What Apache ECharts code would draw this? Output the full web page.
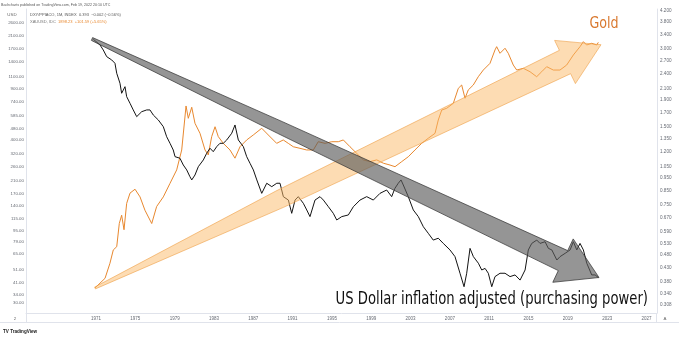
<!DOCTYPE html>
<html><head><meta charset="utf-8">
<script src="https://cdn.jsdelivr.net/npm/echarts@6/dist/echarts.min.js"></script>
<style>html,body{margin:0;padding:0;background:#fff}#c{width:679px;height:337px}</style>
</head><body><div id="c"></div>
<script>
// ---- data ----
const goldYears = [1970.9,1971.92,1972.42,1972.76,1973.11,1973.37,1973.61,1973.85,1974.12,1974.46,1974.97,1975.48,1975.98,1976.67,1977.17,1977.85,1978.53,1979.21,1979.72,1980.16,1980.39,1980.74,1981.07,1981.58,1982.09,1982.42,1982.77,1983.11,1983.44,1983.95,1984.63,1985.14,1985.65,1986.33,1987.0,1987.86,1988.53,1989.38,1990.05,1990.56,1991.07,1991.75,1992.43,1993.11,1993.61,1994.3,1994.98,1995.65,1996.16,1996.84,1997.52,1998.19,1998.87,1999.56,2000.23,2000.91,2001.42,2002.1,2002.77,2003.45,2004.13,2004.8,2005.49,2005.82,2006.17,2006.68,2007.35,2007.86,2008.2,2008.54,2008.87,2009.38,2009.89,2010.4,2011.08,2011.59,2011.76,2012.1,2012.61,2012.94,2013.45,2013.8,2014.47,2015.15,2015.83,2016.34,2016.85,2017.52,2018.2,2018.88,2019.56,2020.24,2020.58,2020.91,2021.43,2021.94,2022.1];
const goldValues = [38,44.3,56.3,69.6,73.3,106,121,96,146,172,183,162,131,106,139,162,201,249,342,689,566,675,523,446,342,316,423,495,423,380,342,300,360,401,434,483,434,380,401,380,360,351,342,342,390,380,390,390,401,360,324,292,284,292,277,269,262,284,307,342,380,412,446,551,646,664,719,913,962,779,889,962,1098,1221,1358,1681,1771,1594,1727,1594,1322,1221,1255,1189,1098,1189,1288,1221,1221,1322,1552,1771,1918,1819,1869,1819,1898];

const dollarYears = [1970.73,1971.41,1971.74,1972.09,1972.6,1972.93,1973.11,1973.44,1973.61,1973.95,1974.12,1974.46,1974.79,1975.14,1975.3,1975.65,1976.16,1976.49,1976.83,1977.34,1977.85,1978.19,1978.53,1978.86,1979.04,1979.54,1979.88,1980.23,1980.56,1980.74,1981.07,1981.41,1981.92,1982.26,1982.6,1982.93,1983.28,1983.61,1983.95,1984.3,1984.81,1985.14,1985.48,1985.99,1986.33,1986.67,1987.01,1987.36,1987.86,1988.37,1988.88,1989.39,1989.72,1990.06,1990.57,1990.91,1991.25,1991.58,1992.09,1992.44,1992.77,1993.28,1993.79,1994.13,1994.64,1995.14,1995.49,1996.0,1996.67,1997.18,1997.86,1998.54,1999.21,1999.89,2000.57,2001.08,2001.41,2001.75,2002.03,2002.26,2002.77,2003.28,2003.79,2004.3,2004.8,2005.31,2005.82,2006.33,2007.01,2007.52,2008.03,2008.44,2008.71,2009.05,2009.39,2009.9,2010.24,2010.58,2010.91,2011.26,2011.59,2012.1,2012.61,2013.12,2013.63,2014.14,2014.65,2014.98,2015.33,2015.84,2016.17,2016.68,2017.02,2017.37,2017.88,2018.21,2018.72,2019.23,2019.56,2019.91,2020.24,2020.58,2020.93,2021.43,2021.77,2022.1];
const dollarValues = [3.265,3.103,2.968,2.797,2.716,2.637,2.413,2.208,2.02,2.142,1.96,1.848,1.742,1.641,1.632,1.715,1.742,1.742,1.665,1.593,1.501,1.373,1.295,1.22,1.15,1.134,1.068,1.022,0.962,0.935,0.977,1.052,1.117,1.185,1.239,1.202,1.257,1.295,1.295,1.334,1.416,1.524,1.334,1.257,1.15,1.084,1.022,0.935,0.83,0.908,0.881,0.908,0.908,0.806,0.782,0.695,0.782,0.806,0.76,0.716,0.675,0.782,0.806,0.782,0.737,0.695,0.655,0.675,0.685,0.737,0.782,0.806,0.782,0.83,0.855,0.806,0.868,0.908,0.935,0.894,0.806,0.716,0.675,0.617,0.582,0.548,0.557,0.532,0.502,0.473,0.408,0.362,0.408,0.509,0.473,0.446,0.42,0.426,0.408,0.362,0.396,0.408,0.408,0.396,0.402,0.384,0.42,0.502,0.532,0.548,0.532,0.54,0.509,0.502,0.459,0.473,0.487,0.502,0.54,0.502,0.532,0.502,0.446,0.402,0.402,0.393];

const yearTicks = [1971,1975,1979,1983,1987,1991,1995,1999,2003,2007,2011,2015,2019,2023,2027];
const goldTicks = [30,34,41,51,65,79,95,115,140,170,210,260,320,400,480,585,740,900,1100,1400,1700,2100,2600];
const dollarTicks = [0.308,0.34,0.38,0.43,0.48,0.53,0.59,0.67,0.75,0.85,0.95,1.05,1.2,1.35,1.5,1.7,1.9,2.1,2.4,2.7,3.0,3.4,3.8,4.2];

// ---- build ----
const L = Math.log10;
const goldData = goldYears.map((y,i)=>[y, L(goldValues[i])]);
const dollarData = dollarYears.map((y,i)=>[y, L(dollarValues[i])]);

const FONT = '"Liberation Sans", Arial, sans-serif';
const BIGFONT = '"Liberation Sans Narrow", "DejaVu Sans Condensed", sans-serif';
const labelColor = '#666a73';
const borderColor = '#e0e3eb';

const grayArrow = [[92.6,37.6],[282.9,121.9],[567.7,250.6],[573.2,238.9],[599,277.5],[552.8,282.3],[558.3,270.6],[277.5,133.3],[91.4,40.4]];
const goldArrow = [[95.4,288.9],[283.6,207.3],[570.6,73.7],[575.4,83.6],[601,44.7],[554.6,40.4],[559.4,50.3],[275.8,191.1],[94.6,287.1]];

function txt(x,y,text,font,color,align,sx){
  return {type:'text',z:120,x:x,y:y,scaleX:sx||1,
    style:{x:0,y:0,text:text,fill:color,font:font,
      align:align||'left',verticalAlign:'middle',
      textAlign:align||'left',textVerticalAlign:'middle'}};
}

const chart = echarts.init(document.getElementById('c'), null, {renderer:'canvas'});
chart.setOption({
  backgroundColor:'#ffffff',
  animation:false,
  grid:{left:26,right:22,top:9,bottom:24,containLabel:false},
  xAxis:{type:'value',min:1963.88,max:2028.07,
    axisLine:{show:true,onZero:false,lineStyle:{color:borderColor,width:1}},
    axisTick:{show:false},splitLine:{show:false},
    axisLabel:{customValues:yearTicks,fontSize:4.5,color:labelColor,margin:3,fontFamily:FONT,
      formatter:v=>String(Math.round(v))}},
  yAxis:[
    {type:'value',position:'left',min:L(25.5),max:L(3227),
      axisLine:{show:true,onZero:false,lineStyle:{color:borderColor,width:1}},
      axisTick:{show:false},splitLine:{show:false},
      axisLabel:{customValues:goldTicks.map(L),fontSize:4.4,color:labelColor,margin:2,fontFamily:FONT,
        formatter:v=>Math.pow(10,v).toFixed(2)}},
    {type:'value',position:'right',min:L(0.2866),max:L(4.272),
      axisLine:{show:true,onZero:false,lineStyle:{color:borderColor,width:1}},
      axisTick:{show:false},splitLine:{show:false},
      axisLabel:{customValues:dollarTicks.map(L),fontSize:4.6,color:labelColor,margin:3,fontFamily:FONT,
        formatter:v=>Math.pow(10,v).toFixed(3)}}
  ],
  series:[
    {name:'XAUUSD',type:'line',yAxisIndex:0,data:goldData,showSymbol:false,
      lineStyle:{color:'#e8882f',width:1},z:3},
    {name:'DXY/PPIACO',type:'line',yAxisIndex:1,data:dollarData,showSymbol:false,
      lineStyle:{color:'#131313',width:1},z:4}
  ],
  graphic:[
    {type:'polygon',z:100,shape:{points:goldArrow},
      style:{fill:'rgba(252,186,104,0.5)',stroke:'rgba(238,160,70,0.75)',lineWidth:0.8}},
    {type:'polygon',z:101,shape:{points:grayArrow},
      style:{fill:'rgba(92,92,92,0.65)',stroke:'rgba(50,50,50,0.9)',lineWidth:0.8}},
    {type:'line',z:90,shape:{x1:0,y1:322.5,x2:679,y2:322.5},style:{stroke:borderColor,lineWidth:1}},
    {type:'line',z:90,shape:{x1:26.5,y1:313,x2:26.5,y2:322.5},style:{stroke:borderColor,lineWidth:1}},
    {type:'line',z:90,shape:{x1:656.5,y1:313,x2:656.5,y2:322.5},style:{stroke:borderColor,lineWidth:1}},
    txt(1,5,'Bachcharts published on TradingView.com, Feb 19, 2022 20:10 UTC','3.6px '+FONT,'#555'),
    txt(30,15,'DXY/PPIACO, 1M, INDEX  0.393  \u22120.002 (\u22120.56%)','4px '+FONT,'#555'),
    txt(30,22,'XAUUSD, IDC','4px '+FONT,'#777'),
    txt(58,22,'1898.23  +101.59 (+5.65%)','4px '+FONT,'#e8882f'),
    txt(12,15,'USD','4.4px '+FONT,'#666','center'),
    txt(15,319,'2','4.4px '+FONT,'#666','center'),
    txt(665,319,'A','4.4px '+FONT,'#666','center'),
    txt(3,332,'TV TradingView','bold 4.6px '+FONT,'#222'),
    txt(604,24,'Gold','16px '+BIGFONT,'#d9782e','center',0.88),
    txt(648,300,'US Dollar inflation adjusted (purchasing power)','17px '+BIGFONT,'#111','right',0.862)
  ]
});
</script></body></html>
